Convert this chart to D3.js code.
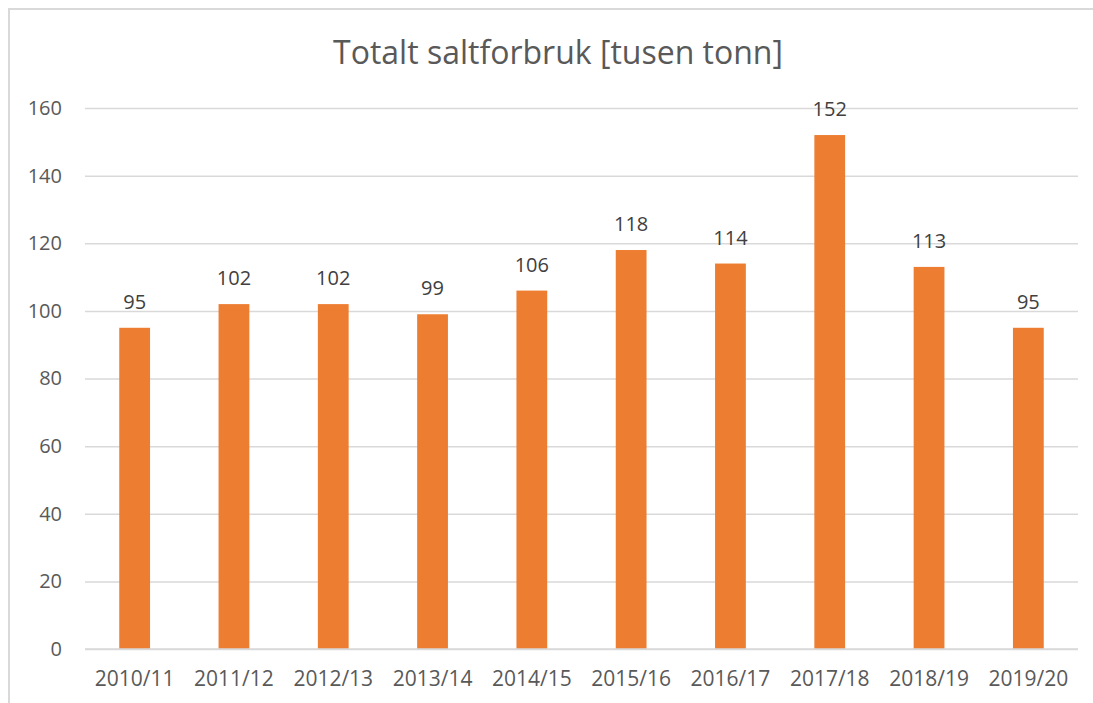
<!DOCTYPE html>
<html>
<head>
<meta charset="utf-8">
<script src="https://cdn.jsdelivr.net/npm/d3@7"></script>
<style>
  body { margin: 0; background: #fff; }
  text { font-family: "Open Sans", "Liberation Sans", sans-serif; }
</style>
</head>
<body>
<svg width="1093" height="703"></svg>
<script>
// data
var seasons = ["2010/11", "2011/12", "2012/13", "2013/14", "2014/15", "2015/16", "2016/17", "2017/18", "2018/19", "2019/20"];
var salt = [95, 102, 102, 99, 106, 118, 114, 152, 113, 95];
var yTicks = [0, 20, 40, 60, 80, 100, 120, 140, 160];

var svg = d3.select("svg"),
    margin = {top: 108, right: 15, bottom: 54, left: 85},
    width = +svg.attr("width") - margin.left - margin.right,
    height = +svg.attr("height") - margin.top - margin.bottom;

// chart frame (cut off at right/bottom like the screenshot)
svg.append("rect")
    .attr("x", 9).attr("y", 9)
    .attr("width", 1100).attr("height", 720)
    .attr("fill", "none")
    .attr("stroke", "#d9d9d9")
    .attr("stroke-width", 2);

svg.append("text")
    .attr("x", 558)
    .attr("y", 64)
    .attr("text-anchor", "middle")
    .attr("fill", "#595959")
    .attr("font-size", 32)
    .text("Totalt saltforbruk [tusen tonn]");

var g = svg.append("g").attr("transform", "translate(" + margin.left + "," + margin.top + ")");

var x = d3.scaleBand()
    .domain(seasons)
    .range([0, width])
    .paddingInner(0.69)
    .paddingOuter(0.345);

var y = d3.scaleLinear()
    .domain([0, 160])
    .range([height, 0]);

// gridlines + y labels
g.append("g")
    .call(d3.axisLeft(y).tickValues(yTicks).tickSize(-width).tickPadding(23))
    .call(function(a) {
      a.select(".domain").remove();
      a.selectAll("line").attr("stroke", "#d9d9d9").attr("stroke-width", 1.5);
      a.selectAll("text").attr("fill", "#595959").attr("font-size", 20);
    });

// x labels
g.append("g")
    .attr("transform", "translate(0," + height + ")")
    .call(d3.axisBottom(x).tickSize(0).tickPadding(22))
    .call(function(a) {
      a.select(".domain").remove();
      a.selectAll("text").attr("fill", "#595959").attr("font-size", 21);
    });

var bars = g.selectAll(".bar")
    .data(seasons)
  .enter();

bars.append("rect")
    .attr("x", function(d) { return x(d); })
    .attr("y", function(d, i) { return y(salt[i]); })
    .attr("width", x.bandwidth())
    .attr("height", function(d, i) { return height - y(salt[i]); })
    .attr("fill", "#ed7d31");

bars.append("text")
    .attr("x", function(d) { return x(d) + x.bandwidth() / 2; })
    .attr("y", function(d, i) { return y(salt[i]) - 19; })
    .attr("text-anchor", "middle")
    .attr("fill", "#404040")
    .attr("font-size", 20)
    .text(function(d, i) { return salt[i]; });

// zero line drawn on top of bars
g.append("line")
    .attr("x1", 0).attr("x2", width)
    .attr("y1", height).attr("y2", height)
    .attr("stroke", "#d9d9d9")
    .attr("stroke-width", 1.5);
</script>
</body>
</html>
